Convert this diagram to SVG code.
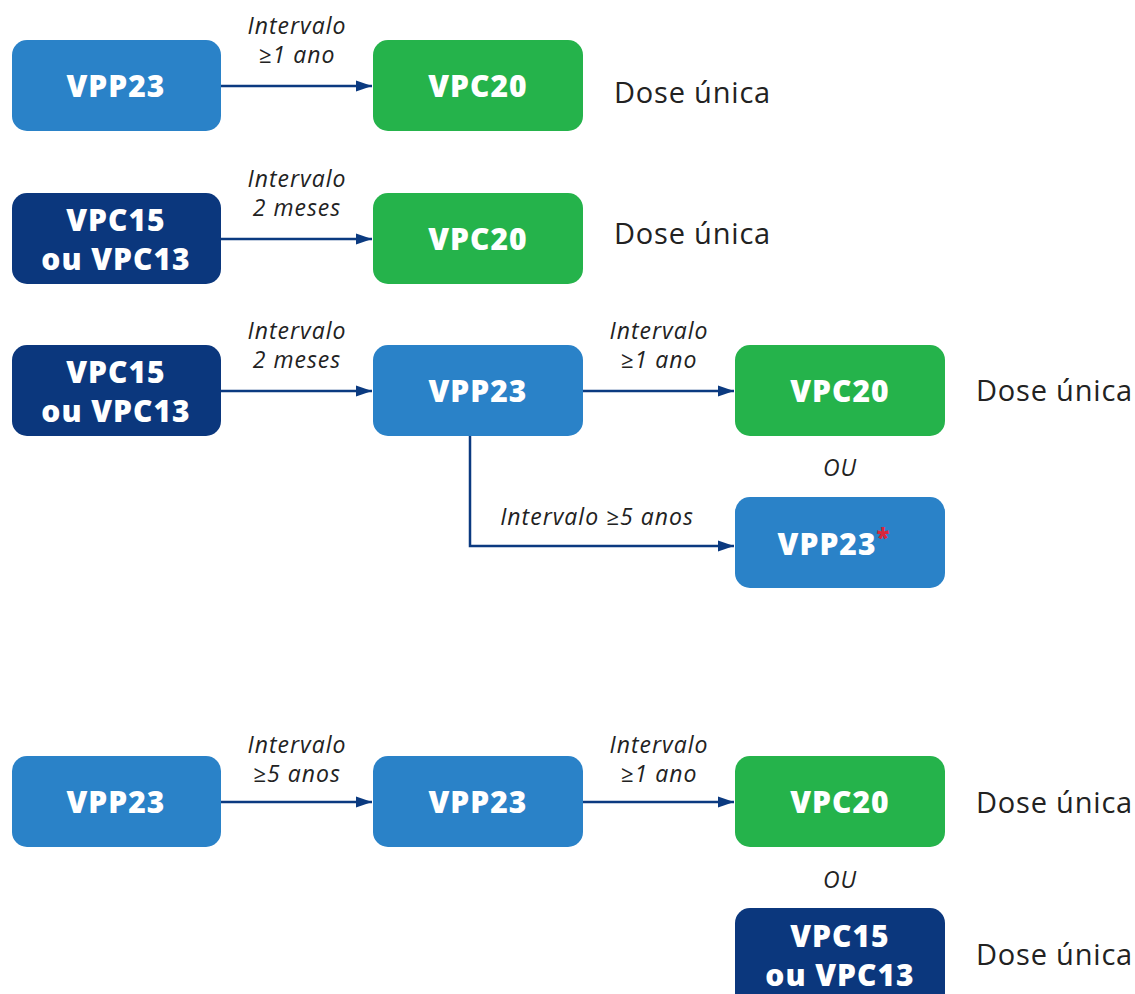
<svg xmlns="http://www.w3.org/2000/svg" width="1135" height="994" viewBox="0 0 1135 994">
<style>
.lb{fill:#2A82C8}.gr{fill:#25B34B}.nv{fill:#0B377D}
.bt{font-family:"Open Sans","Liberation Sans",sans-serif;font-weight:800;font-size:30px;letter-spacing:1px;fill:#fff;text-anchor:middle}
.it{font-family:"Open Sans","Liberation Sans",sans-serif;font-style:italic;font-size:23px;letter-spacing:1px;fill:#222;text-anchor:middle}
.ds{font-family:"Open Sans","Liberation Sans",sans-serif;font-size:29px;letter-spacing:0.8px;fill:#222}
.ln{stroke:#0B3A80;stroke-width:2.5;fill:none}
</style>
<defs>
<marker id="ah" viewBox="0 0 10 10" refX="10" refY="5" markerWidth="16" markerHeight="16" markerUnits="userSpaceOnUse" orient="auto">
<path d="M0,1.5 L10,5 L0,8.5 Z" fill="#0B3A80"/>
</marker>
</defs>
<rect width="1135" height="994" fill="#fff"/>
<g id="connectors">
<path class="ln" d="M221,86 H372" marker-end="url(#ah)"/>
<path class="ln" d="M221,239 H372" marker-end="url(#ah)"/>
<path class="ln" d="M221,391 H372" marker-end="url(#ah)"/>
<path class="ln" d="M583,391 H734" marker-end="url(#ah)"/>
<path class="ln" d="M470,436 V546 H734" marker-end="url(#ah)"/>
<path class="ln" d="M221,802 H372" marker-end="url(#ah)"/>
<path class="ln" d="M583,802 H734" marker-end="url(#ah)"/>
</g>
<g id="labels">
<text class="it" x="297" y="34">Intervalo</text>
<text class="it" x="297" y="63">≥1 ano</text>
<text class="it" x="297" y="187">Intervalo</text>
<text class="it" x="297" y="216">2 meses</text>
<text class="it" x="297" y="339">Intervalo</text>
<text class="it" x="297" y="368">2 meses</text>
<text class="it" x="659" y="339">Intervalo</text>
<text class="it" x="659" y="368">≥1 ano</text>
<text class="it" x="597" y="525">Intervalo ≥5 anos</text>
<text class="it" x="840" y="476">OU</text>
<text class="it" x="297" y="753">Intervalo</text>
<text class="it" x="297" y="782">≥5 anos</text>
<text class="it" x="659" y="753">Intervalo</text>
<text class="it" x="659" y="782">≥1 ano</text>
<text class="it" x="840" y="888">OU</text>
<text class="ds" x="614" y="103">Dose única</text>
<text class="ds" x="614" y="244">Dose única</text>
<text class="ds" x="976" y="401">Dose única</text>
<text class="ds" x="976" y="813">Dose única</text>
<text class="ds" x="976" y="965">Dose única</text>
</g>
<g id="n1"><rect class="lb" x="12" y="40" width="209" height="91" rx="15"/><text class="bt" x="116" y="97">VPP23</text></g>
<g id="n2"><rect class="gr" x="373" y="40" width="210" height="91" rx="15"/><text class="bt" x="478" y="97">VPC20</text></g>
<g id="n3"><rect class="nv" x="12" y="193" width="209" height="91" rx="15"/><text class="bt" x="116" y="231">VPC15</text><text class="bt" x="116" y="270">ou VPC13</text></g>
<g id="n4"><rect class="gr" x="373" y="193" width="210" height="91" rx="15"/><text class="bt" x="478" y="250">VPC20</text></g>
<g id="n5"><rect class="nv" x="12" y="345" width="209" height="91" rx="15"/><text class="bt" x="116" y="383">VPC15</text><text class="bt" x="116" y="422">ou VPC13</text></g>
<g id="n6"><rect class="lb" x="373" y="345" width="210" height="91" rx="15"/><text class="bt" x="478" y="402">VPP23</text></g>
<g id="n7"><rect class="gr" x="735" y="345" width="210" height="91" rx="15"/><text class="bt" x="840" y="402">VPC20</text></g>
<g id="n8"><rect class="lb" x="735" y="497" width="210" height="91" rx="15"/><text class="bt" x="834" y="555">VPP23<tspan fill="#D7263D" font-size="24" dy="-9">*</tspan></text></g>
<g id="n9"><rect class="lb" x="12" y="756" width="209" height="91" rx="15"/><text class="bt" x="116" y="813">VPP23</text></g>
<g id="n10"><rect class="lb" x="373" y="756" width="210" height="91" rx="15"/><text class="bt" x="478" y="813">VPP23</text></g>
<g id="n11"><rect class="gr" x="735" y="756" width="210" height="91" rx="15"/><text class="bt" x="840" y="813">VPC20</text></g>
<g id="n12"><rect class="nv" x="735" y="908" width="210" height="100" rx="15"/><text class="bt" x="840" y="947">VPC15</text><text class="bt" x="840" y="986">ou VPC13</text></g>
</svg>
